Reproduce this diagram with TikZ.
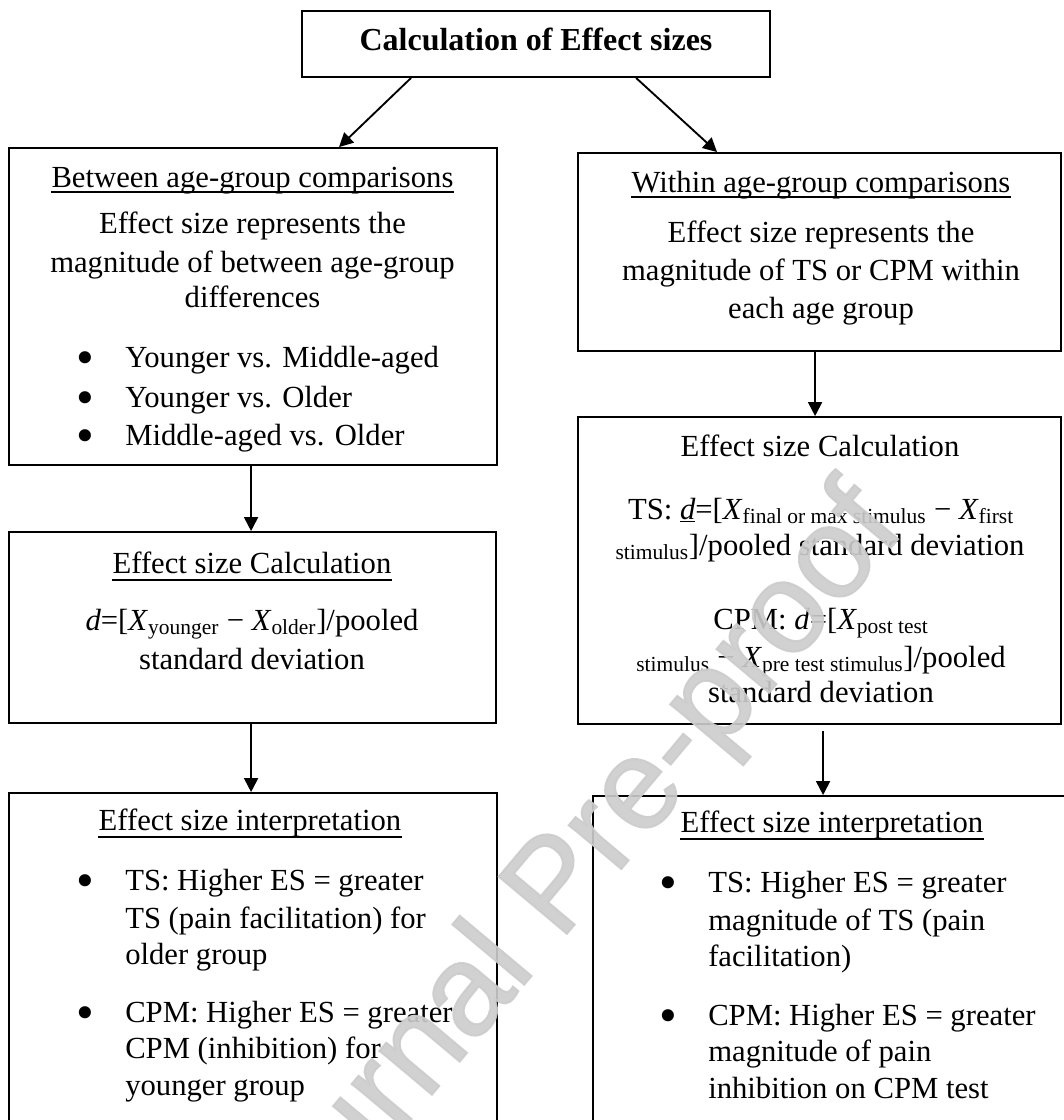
\documentclass[tikz,border=0pt]{standalone}
\usepackage{fontspec}
\setmainfont{Liberation Serif}
\newfontfamily\wmfont[FakeBold=1.5]{Liberation Sans}
\usetikzlibrary{arrows.meta,calc,fit}
\newcommand{\bodysize}{\fontsize{23}{27}\selectfont}
\begin{document}
\begin{tikzpicture}[x=0.75pt,y=-0.75pt,
  box/.style={draw=black,line width=1.4pt,inner sep=0pt,rectangle},
  txt/.style={inner sep=0pt,anchor=base,font=\bodysize},
  txtl/.style={txt,anchor=base west},
  bul/.style={inner sep=0pt,anchor=base,font=\fontsize{38}{38}\selectfont,yshift=-5.25pt},
  ttl/.style={inner sep=0pt,anchor=base,font=\fontsize{24}{28}\selectfont\bfseries},
  arr/.style={line width=1.4pt,-{Triangle[length=10.5pt,width=10.5pt]}},
  ul/.style={line width=0.9pt},
  wm/.style={inner sep=0pt,rotate=50,font=\wmfont\fontsize{97}{97}\selectfont,text=black!20,text opacity=0.9}
]
\useasboundingbox (0,0) rectangle (1063,1120);
\fill[white] (0,0) rectangle (1063,1120);

% boxes
\node[box,fit={(302,11) (770,77)}] (top) {};
\node[box,fit={(9,148) (497,465)}] (b1) {};
\node[box,fit={(578,153) (1061,351)}] (w1) {};
\node[box,fit={(9,532) (496,723)}] (b2) {};
\node[box,fit={(578,417) (1061,724)}] (w2) {};
\node[box,fit={(9,793) (497,1135)}] (b3) {};
\node[box,fit={(593,796) (1075,1135)}] (w3) {};

% connectors
\draw[arr] ($(top.south west)+(110,0)$) -- ($(b1.north west)+(331,0)$);
\draw[arr] ($(top.south west)+(335,0)$) -- ($(w1.north west)+(140,0)$);
\draw[arr] ($(b1.south west)+(243,0)$) -- ($(b2.north west)+(243,0)$);
\draw[arr] ($(w1.south west)+(238,0)$) -- ($(w2.north west)+(238,0)$);
\draw[arr] ($(b2.south west)+(243,0)$) -- ($(b3.north west)+(243,0)$);
\draw[arr] ($(w2.south west)+(246,6)$) -- ($(w3.north west)+(231,0)$);

% title
\node[ttl] (toptxt) at (536,51) {Calculation of Effect sizes};

% between box
\node[txt] (b1t) at (252.5,187) {Between age-group comparisons};
\draw[ul] ($(b1t.base west)+(0,5)$) -- ($(b1t.base east)+(0,5)$);
\node[txt] (b1l1) at (252.5,233) {Effect size represents the};
\node[txt] (b1l2) at (252.5,272) {magnitude of between age-group};
\node[txt] (b1l3) at (252.5,307) {differences};
\node[bul] (b1d1) at (85,367) {•};
\node[bul] (b1d2) at (85,407) {•};
\node[bul] (b1d3) at (85,445) {•};
\node[txtl] (b1i1) at (125,367) {Younger vs. Middle-aged};
\node[txtl] (b1i2) at (125,407) {Younger vs. Older};
\node[txtl] (b1i3) at (125,445) {Middle-aged vs. Older};

% within box
\node[txt] (w1t) at (821,192) {Within age-group comparisons};
\draw[ul] ($(w1t.base west)+(0,5)$) -- ($(w1t.base east)+(0,5)$);
\node[txt] (w1l1) at (821,242) {Effect size represents the};
\node[txt] (w1l2) at (821,280) {magnitude of TS or CPM within};
\node[txt] (w1l3) at (821,318) {each age group};

% between calculation
\node[txt] (b2t) at (252,573) {Effect size Calculation};
\draw[ul] ($(b2t.base west)+(0,7)$) -- ($(b2t.base east)+(0,7)$);
\node[txt] (b2l1) at (252,630) {\textit{d}=[\textit{X}\textsubscript{younger} − \textit{X}\textsubscript{older}]/pooled};
\node[txt] (b2l2) at (252,669) {standard deviation};

% within calculation
\node[txt] (w2t) at (820,456) {Effect size Calculation};
\node[txt] (w2l1) at (821,519) {TS: \underline{\textit{d}}=[\textit{X}\textsubscript{final or max stimulus} − \textit{X}\textsubscript{first}};
\node[txt] (w2l2) at (820,555) {\textsubscript{stimulus}]/pooled standard deviation};
\node[txt] (w2l3) at (821,629) {CPM: \textit{d}=[\textit{X}\textsubscript{post test}};
\node[txt] (w2l4) at (821,667) {\textsubscript{stimulus} − \textit{X}\textsubscript{pre test stimulus}]/pooled};
\node[txt] (w2l5) at (821,702) {standard deviation};

% between interpretation
\node[txt] (b3t) at (250,830) {Effect size interpretation};
\draw[ul] ($(b3t.base west)+(0,7)$) -- ($(b3t.base east)+(0,7)$);
\node[bul] (b3d1) at (85,890) {•};
\node[txtl] (b3a1) at (125,890) {TS: Higher ES = greater};
\node[txtl] (b3a2) at (125,928) {TS (pain facilitation) for};
\node[txtl] (b3a3) at (125,964) {older group};
\node[bul] (b3d2) at (85,1022) {•};
\node[txtl] (b3b1) at (125,1022) {CPM: Higher ES = greater};
\node[txtl] (b3b2) at (125,1058) {CPM (inhibition) for};
\node[txtl] (b3b3) at (125,1095) {younger group};

% within interpretation
\node[txt] (w3t) at (832,832) {Effect size interpretation};
\draw[ul] ($(w3t.base west)+(0,7)$) -- ($(w3t.base east)+(0,7)$);
\node[bul] (w3d1) at (668,892) {•};
\node[txtl] (w3a1) at (708,892) {TS: Higher ES = greater};
\node[txtl] (w3a2) at (708,930) {magnitude of TS (pain};
\node[txtl] (w3a3) at (708,966) {facilitation)};
\node[bul] (w3d2) at (668,1025) {•};
\node[txtl] (w3b1) at (708,1025) {CPM: Higher ES = greater};
\node[txtl] (w3b2) at (708,1061) {magnitude of pain};
\node[txtl] (w3b3) at (708,1098) {inhibition on CPM test};

% watermark
\node[wm] (wmark) at (560,890) {Journal Pre-proof};
\end{tikzpicture}
\end{document}
